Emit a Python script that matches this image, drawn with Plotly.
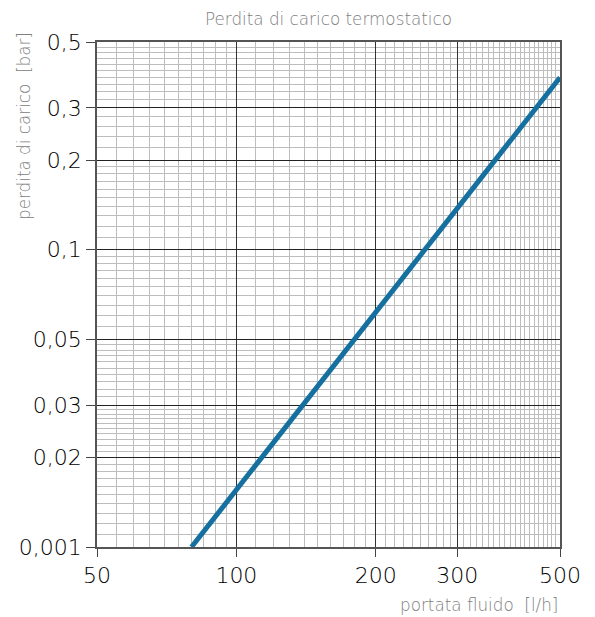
import numpy as np
import plotly.graph_objects as go

# data
flow = [80, 500]              # portata fluido [l/h]
dp = [0.010, 0.38]            # perdita di carico [bar]

x_ticks = [50, 100, 200, 300, 500]
x_ticktext = ["50", "100", "200", "300", "500"]
y_ticks = [0.01, 0.02, 0.03, 0.05, 0.1, 0.2, 0.3, 0.5]
y_ticktext = ["0,001", "0,02", "0,03", "0,05", "0,1", "0,2", "0,3", "0,5"]

# minor grid (graph paper)
x_minor = (list(np.arange(50, 100, 5)) + list(np.arange(100, 200, 10)) +
           list(np.arange(200, 300, 10)) + list(np.arange(300, 501, 10)))
y_minor = (list(np.arange(0.010, 0.030, 0.001)) + list(np.arange(0.030, 0.050, 0.002)) +
           list(np.arange(0.050, 0.100, 0.005)) + list(np.arange(0.10, 0.20, 0.01)) +
           list(np.arange(0.20, 0.30, 0.02)) + list(np.arange(0.30, 0.501, 0.02)))
x_minor = [float(round(v, 4)) for v in x_minor]
y_minor = [float(round(v, 4)) for v in y_minor]

FONT = "DejaVu Sans"
W, H = 587, 609   # page body has an 8px margin
LBL = 16.8

fig = go.Figure()
fig.add_trace(go.Scatter(x=flow, y=dp, mode="lines",
                         line=dict(color="#15709f", width=5),
                         hoverinfo="skip", showlegend=False))

fig.update_layout(
    width=W, height=H,
    margin=dict(l=89, r=35, t=34, b=70),
    paper_bgcolor="white", plot_bgcolor="white",
    font=dict(family=FONT, color="#222"),
    title=dict(text="Perdita di carico termostatico", x=0.5, xref="paper",
               y=1 - 11 / H, yanchor="middle",
               font=dict(family=FONT, size=LBL, color="#808080", weight=200)),
    showlegend=False,
)

fig.update_xaxes(
    type="log", range=[np.log10(50), np.log10(500)],
    tickmode="array", tickvals=x_ticks, ticktext=x_ticktext,
    tickfont=dict(family=FONT, size=22, color="#000", weight=200),
    ticks="outside", ticklen=8, tickcolor="#444", tickwidth=1,
    showgrid=True, gridcolor="#333", gridwidth=1,
    showline=True, linecolor="#555", linewidth=1.5, mirror=True,
    minor=dict(tickmode="array", tickvals=x_minor, showgrid=True,
               gridcolor="#bdbdbd", gridwidth=1, ticks=""),
    zeroline=False,
)
fig.update_yaxes(
    type="log", range=[np.log10(0.01), np.log10(0.5)],
    tickmode="array", tickvals=y_ticks, ticktext=y_ticktext,
    tickfont=dict(family=FONT, size=22, color="#000", weight=200),
    ticks="outside", ticklen=9, tickcolor="#444", tickwidth=1,
    showgrid=True, gridcolor="#222", gridwidth=1,
    showline=True, linecolor="#555", linewidth=1.5, mirror=True,
    minor=dict(tickmode="array", tickvals=y_minor, showgrid=True,
               gridcolor="#bdbdbd", gridwidth=1, ticks=""),
    zeroline=False,
)

fig.add_annotation(text="perdita di carico  [bar]", xref="paper", yref="paper",
                   x=0, y=1, xanchor="center", yanchor="top", xshift=-73, yshift=12,
                   textangle=-90, showarrow=False,
                   font=dict(family=FONT, size=LBL, color="#808080", weight=200))
fig.add_annotation(text="portata fluido  [l/h]", xref="paper", yref="paper",
                   x=1, y=0, xanchor="right", yanchor="middle", xshift=0, yshift=-58,
                   showarrow=False,
                   font=dict(family=FONT, size=LBL, color="#808080", weight=200))

fig.write_html("out.html")
